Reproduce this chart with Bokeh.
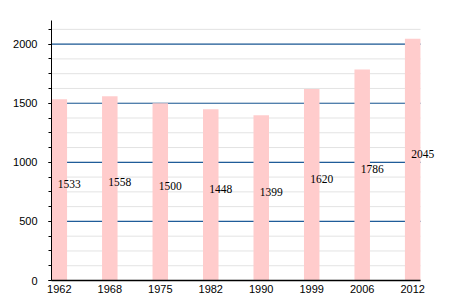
from bokeh.plotting import figure
from bokeh.models import ColumnDataSource, SingleIntervalTicker, FixedTicker, Range1d, LabelSet
from bokeh.embed import file_html
from bokeh.resources import INLINE

years = ["1962", "1968", "1975", "1982", "1990", "1999", "2006", "2012"]
population = [1533, 1558, 1500, 1448, 1399, 1620, 1786, 2045]
minor_levels = list(range(125, 2200, 125))
major_levels = [500, 1000, 1500, 2000]

idx = list(range(len(years)))
src = ColumnDataSource(dict(
    x=idx,
    top=population,
    half=[v / 2 for v in population],
    label=[str(v) for v in population],
))

x_lo = -0.155
x_hi = len(years) - 1 + 0.155
px_per_unit = 369 / (x_hi - x_lo)
x_view_hi = x_lo + 399 / px_per_unit

p = figure(width=450, height=300, output_backend="svg", toolbar_location=None,
           x_range=Range1d(x_lo, x_view_hi), y_range=Range1d(0, 2200),
           min_border_left=51, min_border_right=0, min_border_top=20, min_border_bottom=20)
p.outline_line_color = None
p.background_fill_color = "white"

# grid drawn as segments limited to the bar area
p.xgrid.visible = False
p.ygrid.visible = False
p.segment(x0=[x_lo] * len(minor_levels), x1=[x_hi] * len(minor_levels),
          y0=minor_levels, y1=minor_levels, line_color="#e3e3e3", line_width=1)
p.segment(x0=[x_lo] * len(major_levels), x1=[x_hi] * len(major_levels),
          y0=major_levels, y1=major_levels, line_color="#1f5c99", line_width=1.2)

p.vbar(x="x", top="top", width=0.307, bottom=0, source=src,
       fill_color="#ffcccc", line_color=None)

labels = LabelSet(x="x", y="half", text="label", source=src, text_align="left",
                  text_baseline="alphabetic", y_offset=2, x_offset=-1.5,
                  text_font="Liberation Sans", text_font_size="11.5px", text_color="black")
p.add_layout(labels)

# y axis
p.yaxis.ticker = SingleIntervalTicker(interval=500, num_minor_ticks=4)
p.yaxis.axis_line_color = "black"
p.yaxis.major_tick_line_color = "black"
p.yaxis.minor_tick_line_color = "black"
p.yaxis.major_tick_out = 3
p.yaxis.major_tick_in = 0
p.yaxis.minor_tick_out = 3
p.yaxis.minor_tick_in = 0
p.yaxis.major_label_standoff = 11
p.yaxis.major_label_text_font = "Liberation Sans"
p.yaxis.major_label_text_font_size = "11px"
p.yaxis.major_label_text_color = "black"

# x axis
p.xaxis.ticker = FixedTicker(ticks=idx)
p.xaxis.bounds = (x_lo, x_hi)
p.xaxis.major_label_overrides = {i: y for i, y in zip(idx, years)}
p.xaxis.axis_line_color = "black"
p.xaxis.axis_line_width = 1.3
p.xaxis.major_tick_line_color = None
p.xaxis.minor_tick_line_color = None
p.xaxis.major_label_standoff = -2
p.xaxis.major_label_text_font = "Liberation Sans"
p.xaxis.major_label_text_font_size = "11px"
p.xaxis.major_label_text_color = "black"

open("out.html", "w").write(file_html(p, INLINE))
